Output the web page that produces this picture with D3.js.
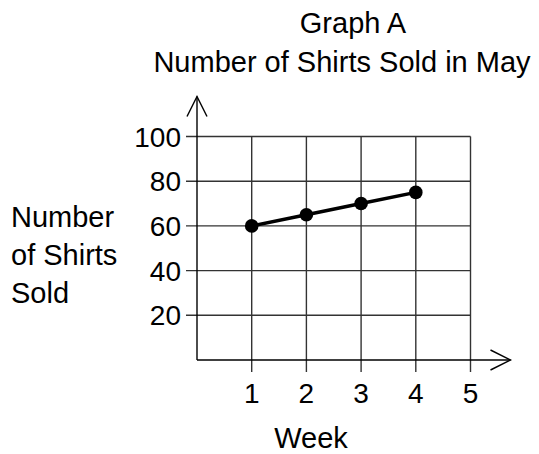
<!DOCTYPE html>
<html>
<head>
<meta charset="utf-8">
<script src="https://cdn.jsdelivr.net/npm/d3@7"></script>
<style>
  body { margin: 0; background: #fff; }
  text { font-family: Arial, "Liberation Sans", sans-serif; fill: #000; }
</style>
</head>
<body>
<div id="container"></div>
<script>
// ==============
//	DATA
// ==============

var weeks = [1, 2, 3, 4];
var shirtsSold = [60, 65, 70, 75];
var xTicks = [1, 2, 3, 4, 5];
var yTicks = [20, 40, 60, 80, 100];
var titleLines = ["Graph A", "Number of Shirts Sold in May"];
var yLabelLines = ["Number", "of Shirts", "Sold"];
var xLabel = "Week";

// ==============
//	OPTIONS
// ==============

var W = 539, H = 454,
	fontSize = 29,
	tickSize = 28,
	colGrid = "#333",
	arrow = 20;

var svg = d3.select("#container").append("svg")
	.attr("width", W)
	.attr("height", H);

var x = d3.scaleLinear().domain([0, 5]).range([197, 470.5]);
var y = d3.scaleLinear().domain([0, 100]).range([360, 136.5]);

// === grid (ticks run past the axes)
svg.append("g")
	.attr("stroke", colGrid)
	.attr("stroke-width", 1.4)
	.selectAll("line")
		.data(yTicks)
		.join("line")
		.attr("x1", x(0) - 11)
		.attr("x2", x(5))
		.attr("y1", d => y(d))
		.attr("y2", d => y(d));

svg.append("g")
	.attr("stroke", colGrid)
	.attr("stroke-width", 1.4)
	.selectAll("line")
		.data(xTicks)
		.join("line")
		.attr("x1", d => x(d))
		.attr("x2", d => x(d))
		.attr("y1", y(100))
		.attr("y2", y(0) + 12);

// === axes with arrows
var axes = svg.append("g")
	.attr("stroke", "#000")
	.attr("stroke-width", 1.4)
	.attr("fill", "none");

var yTop = y(100) - 40, xEnd = x(5) + 40;

axes.append("line")
	.attr("x1", x(0)).attr("x2", x(0))
	.attr("y1", y(0)).attr("y2", yTop);
axes.append("path")
	.attr("d", "M" + (x(0) - arrow / 2) + "," + (yTop + arrow) + "L" + x(0) + "," + yTop + "L" + (x(0) + arrow / 2) + "," + (yTop + arrow));

axes.append("line")
	.attr("x1", x(0)).attr("x2", xEnd)
	.attr("y1", y(0)).attr("y2", y(0));
axes.append("path")
	.attr("d", "M" + (xEnd - arrow) + "," + (y(0) - arrow / 2) + "L" + xEnd + "," + y(0) + "L" + (xEnd - arrow) + "," + (y(0) + arrow / 2));

// === tick labels
svg.append("g")
	.style("font-size", tickSize + "px")
	.attr("text-anchor", "end")
	.selectAll("text")
		.data(yTicks)
		.join("text")
		.attr("x", x(0) - 16)
		.attr("y", d => y(d))
		.attr("dy", "0.36em")
		.text(d => d);

svg.append("g")
	.style("font-size", tickSize + "px")
	.attr("text-anchor", "middle")
	.selectAll("text")
		.data(xTicks)
		.join("text")
		.attr("x", d => x(d))
		.attr("y", 402.5)
		.text(d => d);

// === data line + points
var pts = weeks.map((w, i) => [w, shirtsSold[i]]);

svg.append("path")
	.datum(pts)
	.attr("fill", "none")
	.attr("stroke", "#000")
	.attr("stroke-width", 3.5)
	.attr("d", d3.line().x(d => x(d[0])).y(d => y(d[1])));

svg.append("g")
	.selectAll("circle")
		.data(pts)
		.join("circle")
		.attr("cx", d => x(d[0]))
		.attr("cy", d => y(d[1]))
		.attr("r", 6.8)
		.attr("fill", "#000");

// === titles and labels
svg.append("g")
	.style("font-size", fontSize + "px")
	.attr("text-anchor", "middle")
	.selectAll("text")
		.data(titleLines)
		.join("text")
		.attr("x", (d, i) => i == 0 ? 353 : 342)
		.attr("y", (d, i) => 33 + i * 39)
		.text(d => d);

svg.append("g")
	.style("font-size", fontSize + "px")
	.selectAll("text")
		.data(yLabelLines)
		.join("text")
		.attr("x", 11)
		.attr("y", (d, i) => 226.5 + i * 38.3)
		.text(d => d);

svg.append("text")
	.style("font-size", fontSize + "px")
	.attr("text-anchor", "middle")
	.attr("x", 311)
	.attr("y", 448)
	.text(xLabel);
</script>
</body>
</html>
